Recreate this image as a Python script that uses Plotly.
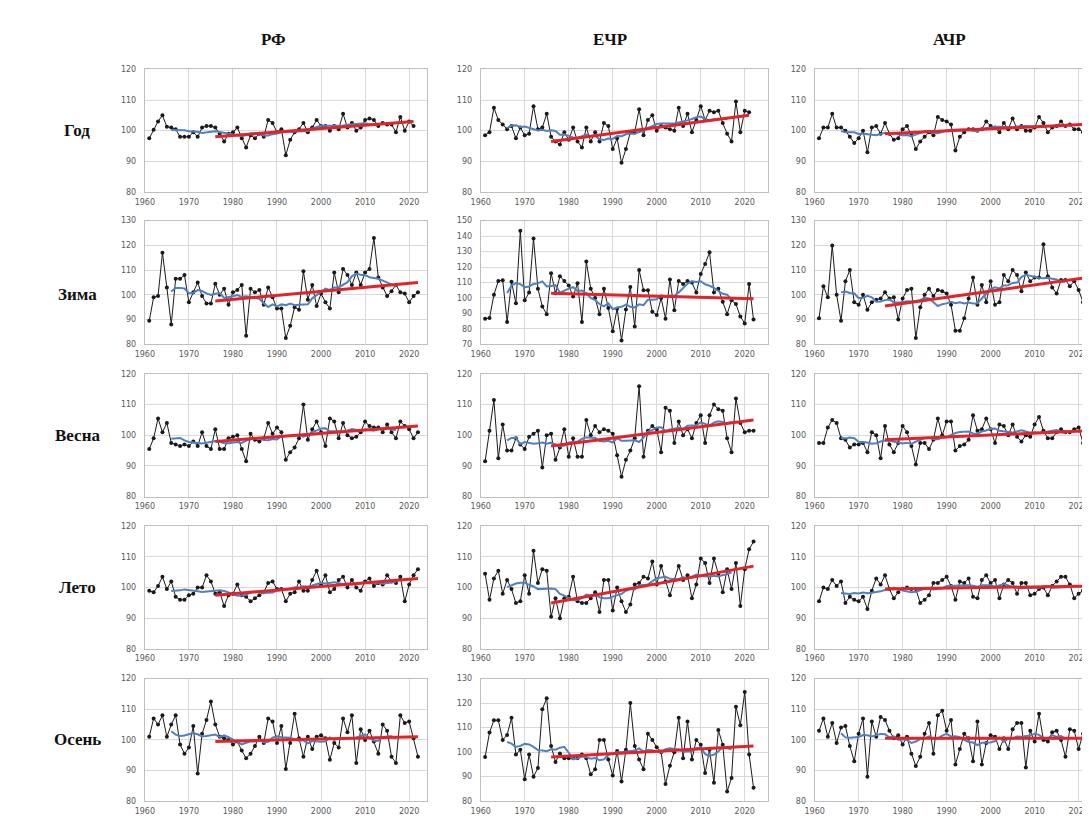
import plotly.graph_objects as go
import pandas as pd

# ---------------- data ----------------
first_year = 1961
trend_from = 1976

column_titles = ["РФ", "ЕЧР", "АЧР"]
row_titles = ["Год", "Зима", "Весна", "Лето", "Осень"]

rf_year = [97.5, 100.3, 103, 105, 101.3, 101, 100.5, 98, 98, 98,
           99.5, 98, 101, 101.5, 101.5, 101, 99, 96.5, 99, 99.5,
           101, 97.5, 94.5, 98.5, 97.5, 99, 98, 103.5, 102.5, 99.5,
           100.5, 92, 97, 99.5, 100.5, 102.5, 99.5, 101, 103.5, 101.5,
           101.5, 100, 101.5, 100.5, 105.5, 101, 102.5, 100, 101, 103.5,
           104, 103.5, 101.5, 102.5, 102, 102, 99.5, 104.5, 100, 103,
           101.5]
rf_winter = [89.5, 99, 99.5, 117, 103, 88, 106.5, 106.5, 108, 97,
             101, 105, 99.5, 96.5, 96.5, 104.5, 100, 102.5, 96, 101,
             102, 104, 83.5, 102.5, 101, 102, 96, 103, 99, 94.5,
             94.5, 82.5, 87.5, 95, 94, 109.5, 98, 104, 95.5, 100.5,
             97, 94.5, 109, 101, 110.5, 108, 104, 109, 104, 109,
             110.5, 123, 107, 103, 99.5, 101.5, 104, 101, 100.5, 97,
             99.5, 101]
rf_spring = [95.5, 99, 105.5, 101, 104, 97.5, 97, 96.5, 97, 96.5,
             98, 96.5, 101, 96.5, 95.5, 102, 95.5, 95.5, 99, 99.5,
             100, 95.5, 91.5, 100.5, 98.5, 98, 99, 104, 100.5, 102.5,
             101, 92, 94.5, 96, 99, 110, 98.5, 102, 104.5, 101,
             96.5, 105.5, 104.5, 99, 104, 100, 99, 99.5, 101, 104.5,
             103, 102.5, 102.5, 101, 103.5, 101, 99, 104.5, 103, 102,
             99, 101]
rf_summer = [99, 98.5, 100.5, 103.5, 99.5, 102, 97, 96, 96, 97.5,
             98, 100, 100, 104, 102, 98, 98.5, 94, 97.5, 98,
             101, 97.5, 97, 95.5, 96.5, 97.5, 98.5, 101.5, 102, 99.5,
             99.5, 95.5, 98, 98.5, 102, 99, 99, 102.5, 105.5, 101,
             104, 98.5, 99.5, 102.5, 103.5, 100, 102.5, 100, 99, 102,
             103, 100.5, 101.5, 101, 104, 102, 101.5, 103.5, 95.5, 101,
             104, 106]
rf_autumn = [101, 107, 105, 108, 101, 105, 108, 98.5, 95.5, 97.5,
             104.5, 89, 102, 106.5, 112.5, 105, 101, 100.5, 100, 98.5,
             99.5, 96.5, 94, 95.5, 98, 101, 99, 107, 106, 99,
             104.5, 90.5, 99, 108.5, 100.5, 94.5, 101, 97, 101, 101.5,
             100.5, 93.5, 99, 97.5, 107, 102.5, 108, 92.5, 103.5, 100,
             103, 99.5, 95.5, 105, 103, 94.5, 92.5, 108, 105.5, 106,
             100.5, 94.5]

etr_year = [98.5, 99.5, 107.5, 103.5, 102, 100.5, 101.5, 97.5, 101, 98.5,
            99, 108, 100.5, 101, 105.5, 98, 96.5, 95.5, 99.5, 97,
            101, 96.5, 94.5, 101, 96.5, 99.5, 96.5, 102.5, 101.5, 94,
            97.5, 89.5, 94, 99.5, 99.5, 107, 98.5, 103.5, 105, 100,
            101.5, 101, 100.5, 100, 107.5, 101.5, 105.5, 99.5, 103.5, 108,
            103.5, 106.5, 106, 106.5, 102.5, 99, 96.5, 109.5, 99.5, 106.5,
            106]
etr_winter = [86.5, 87, 102, 111, 111.5, 84.5, 110.5, 96.5, 143.5, 98.5,
              103.5, 138.5, 106, 94.5, 89.5, 116, 103, 114, 111, 108,
              101, 109.5, 84.5, 123.5, 106, 100, 89.5, 106, 93.5, 78.5,
              93, 72.5, 92.5, 107, 81.5, 118, 105, 105, 91, 89,
              100, 86.5, 112, 92, 111, 109, 111, 110, 103.5, 115.5,
              122, 129.5, 103.5, 106, 97.5, 89.5, 98.5, 96, 88, 83.5,
              109, 86]
etr_spring = [91.5, 101.5, 111.5, 92.5, 103.5, 95, 95, 99, 97, 95.5,
              99.5, 100.5, 101.5, 89.5, 100, 100.5, 92, 96, 102, 93,
              99, 93, 93, 105, 100, 103, 101, 102, 101.5, 100.5,
              93.5, 86.5, 92, 95, 99, 116, 93, 101.5, 103, 102,
              94.5, 109, 108, 97.5, 104.5, 100, 102, 99, 104, 106.5,
              97.5, 106.5, 110, 108.5, 108, 99, 94.5, 112, 104, 101,
              101.5, 101.5]
etr_summer = [104.5, 96, 103, 105.5, 98, 102.5, 99.5, 95, 95.5, 104,
              98, 112, 101.5, 106, 105.5, 90.5, 96.5, 90, 96.5, 97,
              103.5, 95.5, 95, 95, 96.5, 98.5, 92, 102.5, 102.5, 92.5,
              100, 95.5, 92, 94.5, 101, 101.5, 103.5, 103, 108.5, 101,
              107, 102, 97.5, 102.5, 107, 102.5, 104, 96.5, 101, 109.5,
              108, 101.5, 109.5, 104.5, 98.5, 106, 99.5, 108, 94, 106,
              112.5, 115]
etr_autumn = [98, 108, 113, 113, 105, 107, 114, 99, 101, 89,
              99, 90, 93.5, 117.5, 122, 102.5, 96, 99.5, 97.5, 97.5,
              97.5, 97.5, 99, 97.5, 91, 93, 105, 105, 97, 90.5,
              100.5, 88, 101, 120, 102.5, 97, 93, 107.5, 105, 102,
              100, 87, 94.5, 100, 114, 97.5, 112.5, 97, 105, 103,
              91.5, 101, 87.5, 109, 103, 84, 89.5, 118.5, 111, 124.5,
              99, 85.5]

atr_year = [97.5, 101, 101, 105.5, 101, 101, 100, 98, 96, 97.5,
            100, 93, 101, 101.5, 99, 102.5, 99, 97, 97.5, 100.5,
            101.5, 98.5, 94, 96.5, 98, 99.5, 98.5, 104.5, 103.5, 103,
            102, 93.5, 98, 99.5, 100.5, 100.5, 100, 100.5, 103, 101.5,
            101, 99.5, 102.5, 100.5, 104, 100.5, 101.5, 100, 100, 101,
            104.5, 102.5, 99.5, 101, 101.5, 103, 101.5, 102, 100.5, 100.5,
            99.5]
atr_winter = [90.5, 103.5, 99, 120, 100, 89.5, 105.5, 110, 97, 96,
              100, 94, 97, 98, 98.5, 101, 98.5, 99, 90, 98.5,
              102, 102.5, 82.5, 95, 100, 102.5, 99.5, 102, 101.5, 100.5,
              96, 85.5, 85.5, 90.5, 98.5, 107, 96, 104, 97, 105.5,
              96, 97, 108, 105.5, 110, 108, 101.5, 109, 105.5, 107,
              107, 120.5, 107.5, 103, 100.5, 106, 106, 103.5, 105.5, 102,
              97, 107]
atr_spring = [97.5, 97.5, 102.5, 105, 104, 99, 98.5, 96, 97, 97,
              97.5, 94.5, 101, 100, 92.5, 103, 97, 94.5, 97.5, 103,
              101, 96.5, 90.5, 97.5, 97.5, 95.5, 98.5, 105.5, 100, 104.5,
              104.5, 95, 96.5, 97, 98.5, 106.5, 101.5, 102, 105.5, 102,
              97.5, 103.5, 103, 100, 103.5, 99.5, 98, 100, 99.5, 103.5,
              106, 101.5, 99, 99, 101, 102, 101, 101, 102, 102.5,
              97.5, 100.5]
atr_summer = [95.5, 100, 99.5, 102.5, 100.5, 102, 95, 97, 96, 95.5,
              97, 93, 99, 103, 101, 104, 99.5, 96.5, 98.5, 99.5,
              100, 99.5, 99.5, 95, 96, 97.5, 101.5, 101.5, 102.5, 103.5,
              100.5, 96, 102, 101.5, 103, 97, 96.5, 102.5, 104, 101.5,
              102.5, 96.5, 101, 102.5, 101.5, 98, 101.5, 101.5, 97.5, 98,
              99.5, 100, 97.5, 100.5, 102, 103.5, 103.5, 101, 96.5, 98,
              99, 100]
atr_autumn = [103, 107, 101, 105.5, 99, 104, 104.5, 98, 93, 102,
              107, 88, 106, 101, 107.5, 106.5, 103, 100.5, 101.5, 98.5,
              101, 95.5, 91.5, 94.5, 102, 105.5, 95.5, 108, 109.5, 103,
              106.5, 92, 97, 102, 100.5, 93, 106, 92, 99, 101.5,
              101, 97, 100.5, 97, 103.5, 105.5, 105.5, 91, 103, 99.5,
              108.5, 100, 99.5, 102.5, 103, 100, 94.5, 103.5, 103, 97,
              102, 99.5]

# linear trend 1976..end: value at start and at end
rf_trend_start = [98, 97.5, 98, 97.5, 99.5]
rf_trend_end = [103, 105, 103, 103, 101]
etr_trend_start = [96.5, 103, 96.5, 95, 98]
etr_trend_end = [105, 99.5, 105, 107, 102.5]
atr_trend_start = [99, 95.5, 98.5, 99.5, 100.5]
atr_trend_end = [102, 107, 101.5, 100.5, 100.5]

# y-axis limits per panel
rf_ylim = [(80, 120), (80, 130), (80, 120), (80, 120), (80, 120)]
etr_ylim = [(80, 120), (70, 150), (80, 120), (80, 120), (80, 130)]
atr_ylim = [(80, 120), (80, 130), (80, 120), (80, 120), (80, 120)]

# ---------------- layout geometry ----------------
W, H = 1090, 816
col_px = [(128, 413, 2024.1), (467, 757, 2025.3), (804, 1082, 2022.6)]
row_px = [(58, 182), (211, 336), (366, 490), (520, 644), (674, 798)]

series = [[rf_year, rf_winter, rf_spring, rf_summer, rf_autumn],
          [etr_year, etr_winter, etr_spring, etr_summer, etr_autumn],
          [atr_year, atr_winter, atr_spring, atr_summer, atr_autumn]]
t_start = [rf_trend_start, etr_trend_start, atr_trend_start]
t_end = [rf_trend_end, etr_trend_end, atr_trend_end]
ylims = [rf_ylim, etr_ylim, atr_ylim]

BLACK = "#1a1a1a"
BLUE = "#4f81bd"
RED = "#e0242b"
GRID = "#d9d9d9"
TICKC = "#595959"

fig = go.Figure()
layout = {}
k = 0
for c in range(3):
    for r in range(5):
        k += 1
        vals = series[c][r]
        years = list(range(first_year, first_year + len(vals)))
        s = pd.Series(vals, index=years)
        ma = s.rolling(11, center=True).mean().dropna()
        xa = "x" if k == 1 else f"x{k}"
        ya = "y" if k == 1 else f"y{k}"
        fig.add_trace(go.Scatter(x=years, y=vals, mode="lines+markers",
                                 line=dict(color=BLACK, width=1),
                                 marker=dict(color=BLACK, size=4, symbol="circle"),
                                 xaxis=xa, yaxis=ya, showlegend=False, hoverinfo="x+y"))
        fig.add_trace(go.Scatter(x=list(ma.index), y=list(ma.values), mode="lines",
                                 line=dict(color=BLUE, width=2),
                                 xaxis=xa, yaxis=ya, showlegend=False))
        fig.add_trace(go.Scatter(x=[trend_from, years[-1]], y=[t_start[c][r], t_end[c][r]],
                                 mode="lines", line=dict(color=RED, width=3),
                                 xaxis=xa, yaxis=ya, showlegend=False))
        x0, x1, xmax = col_px[c]
        y0, y1 = row_px[r]
        lo, hi = ylims[c][r]
        xname = "xaxis" if k == 1 else f"xaxis{k}"
        yname = "yaxis" if k == 1 else f"yaxis{k}"
        layout[xname] = dict(domain=[x0 / W, x1 / W], anchor=ya,
                             range=[1960, xmax], tick0=1960, dtick=10,
                             showgrid=True, gridcolor=GRID, gridwidth=1,
                             showline=True, linecolor="#bfbfbf", mirror=True,
                             zeroline=False, ticks="",
                             ticklabelstandoff=2,
                             tickfont=dict(family="DejaVu Sans", size=8, color=TICKC))
        layout[yname] = dict(domain=[1 - y1 / H, 1 - y0 / H], anchor=xa,
                             range=[lo, hi], tick0=lo, dtick=10,
                             showgrid=True, gridcolor=GRID, gridwidth=1,
                             showline=True, linecolor="#bfbfbf", mirror=(c < 2),
                             zeroline=False, ticks="",
                             ticklabelstandoff=6,
                             tickfont=dict(family="DejaVu Sans", size=8, color=TICKC))

annotations = []
title_x = [258, 597, 940]
for c, t in enumerate(column_titles):
    annotations.append(dict(text=f"<b>{t}</b>", x=title_x[c] / W, y=1 - 28 / H,
                            xref="paper", yref="paper", showarrow=False,
                            xanchor="center", yanchor="middle",
                            font=dict(family="Liberation Serif", size=17, color="#111")))
for r, t in enumerate(row_titles):
    y0, y1 = row_px[r]
    lo, hi = ylims[0][r]
    ypix = y0 + (hi - 100) / (hi - lo) * (y1 - y0)
    annotations.append(dict(text=f"<b>{t}</b>", x=60 / W, y=1 - ypix / H,
                            xref="paper", yref="paper", showarrow=False,
                            xanchor="center", yanchor="middle",
                            font=dict(family="Liberation Serif", size=17, color="#111")))

fig.update_layout(width=W, height=H, margin=dict(l=0, r=0, t=0, b=0),
                  paper_bgcolor="white", plot_bgcolor="white",
                  annotations=annotations, **layout)

fig.write_html("out.html")
